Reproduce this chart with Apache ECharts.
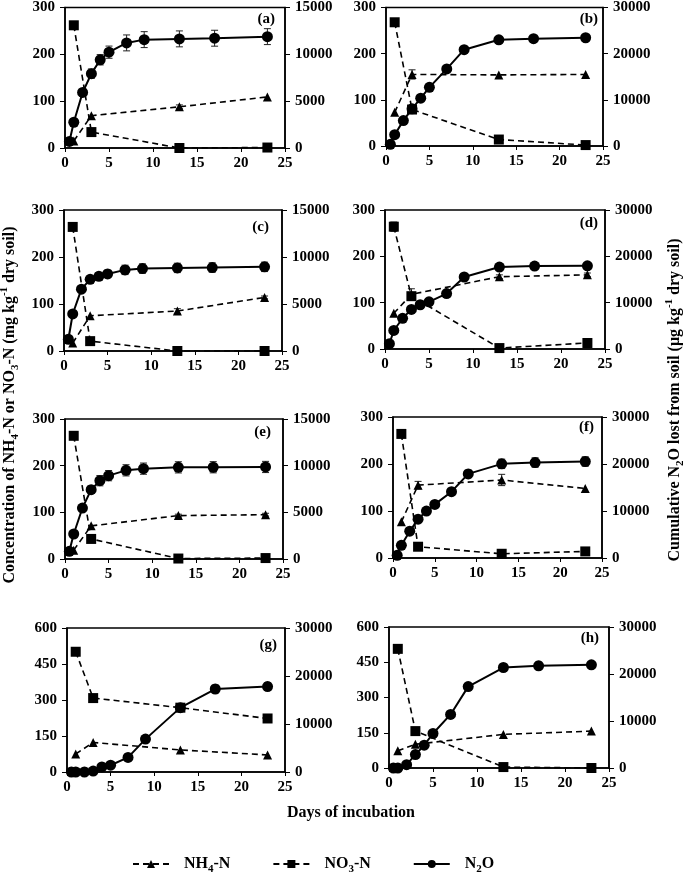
<!DOCTYPE html>
<html><head><meta charset="utf-8">
<script src="https://cdn.jsdelivr.net/npm/echarts@6/dist/echarts.min.js"></script>
<style>html,body{margin:0;padding:0;background:#fff}#c{width:685px;height:878px}</style>
</head><body><div id="c"></div>
<script>
// ---------- data ----------
const n2oDays = [0.5, 1, 2, 3, 4, 5, 7, 9, 13, 17, 23];
const nDays = [1, 3, 13, 23];
const xTicks = [0, 5, 10, 15, 20, 25];
const panelLabels = ['(a)', '(b)', '(c)', '(d)', '(e)', '(f)', '(g)', '(h)'];
const leftMax = [300, 300, 300, 300, 300, 300, 600, 600];
const leftStep = [100, 100, 100, 100, 100, 100, 150, 150];
const rightMax = [15000, 30000, 15000, 30000, 15000, 30000, 30000, 30000];
const rightStep = [5000, 10000, 5000, 10000, 5000, 10000, 10000, 10000];

const n2oA = [700, 2750, 5930, 7940, 9420, 10230, 11220, 11570, 11650, 11720, 11890];
const n2oErrA = [150, 200, 300, 500, 550, 650, 850, 850, 850, 850, 850];
const nh4A = [15, 69, 88, 109];
const nh4ErrA = [0, 0, 4, 0];
const no3A = [262, 34, 0, 1];
const no3ErrA = [0, 0, 0, 0];

const n2oB = [360, 2450, 5500, 8060, 10360, 12700, 16700, 20860, 23000, 23240, 23450];
const n2oErrB = [0, 0, 0, 0, 0, 0, 200, 200, 200, 200, 200];
const nh4B = [73, 155, 154, 155];
const nh4ErrB = [0, 10, 0, 0];
const no3B = [268, 79, 14, 2];
const no3ErrB = [0, 0, 0, 0];

const n2oC = [1250, 3940, 6580, 7620, 7950, 8200, 8630, 8770, 8840, 8880, 8950];
const n2oErrC = [0, 0, 300, 350, 400, 400, 500, 500, 500, 500, 500];
const nh4C = [17, 75, 85, 114];
const nh4ErrC = [0, 0, 5, 3];
const no3C = [264, 21, 0, 0];
const no3ErrC = [0, 0, 0, 0];

const n2oD = [1140, 4000, 6630, 8550, 9550, 10190, 11970, 15540, 17680, 17890, 17960];
const n2oErrD = [0, 0, 0, 0, 0, 0, 500, 500, 300, 200, 200];
const nh4D = [77, 118, 156, 160];
const nh4ErrD = [0, 12, 4, 4];
const no3D = [264, 114, 2, 13];
const no3ErrD = [10, 0, 0, 0];

const n2oE = [820, 2680, 5460, 7430, 8390, 8930, 9500, 9680, 9820, 9830, 9860];
const n2oErrE = [0, 200, 300, 400, 550, 550, 600, 600, 600, 600, 600];
const nh4E = [19, 71, 93, 95];
const nh4ErrE = [0, 0, 3, 3];
const no3E = [264, 43, 1, 2];
const no3ErrE = [0, 0, 0, 0];

const n2oF = [570, 2700, 5700, 8270, 9980, 11400, 14110, 17890, 20030, 20310, 20530];
const n2oErrF = [300, 0, 0, 300, 300, 300, 600, 800, 1000, 1000, 1000];
const nh4F = [77, 155, 166, 148];
const nh4ErrF = [0, 8, 12, 0];
const no3F = [264, 24, 9, 14];
const no3ErrF = [8, 0, 0, 0];

const n2oG = [0, 0, 0, 200, 1060, 1410, 3040, 6850, 13410, 17290, 17790];
const n2oErrG = [0, 0, 0, 0, 0, 0, 300, 400, 400, 800, 800];
const nh4G = [75, 123, 92, 71];
const nh4ErrG = [0, 0, 0, 0];
const no3G = [501, 308, 268, 223];
const no3ErrG = [0, 10, 0, 0];

const n2oH = [0, 0, 710, 2850, 4850, 7340, 11400, 17320, 21380, 21730, 21950];
const n2oErrH = [0, 0, 0, 0, 0, 0, 300, 400, 700, 800, 700];
const nh4H = [73, 101, 143, 157];
const nh4ErrH = [0, 0, 0, 0];
const no3H = [507, 157, 4, 0];
const no3ErrH = [0, 0, 0, 0];

// ---------- layout ----------
const panels = [
  {n2o: n2oA, n2oErr: n2oErrA, nh4: nh4A, nh4Err: nh4ErrA, no3: no3A, no3Err: no3ErrA},
  {n2o: n2oB, n2oErr: n2oErrB, nh4: nh4B, nh4Err: nh4ErrB, no3: no3B, no3Err: no3ErrB},
  {n2o: n2oC, n2oErr: n2oErrC, nh4: nh4C, nh4Err: nh4ErrC, no3: no3C, no3Err: no3ErrC},
  {n2o: n2oD, n2oErr: n2oErrD, nh4: nh4D, nh4Err: nh4ErrD, no3: no3D, no3Err: no3ErrD},
  {n2o: n2oE, n2oErr: n2oErrE, nh4: nh4E, nh4Err: nh4ErrE, no3: no3E, no3Err: no3ErrE},
  {n2o: n2oF, n2oErr: n2oErrF, nh4: nh4F, nh4Err: nh4ErrF, no3: no3F, no3Err: no3ErrF},
  {n2o: n2oG, n2oErr: n2oErrG, nh4: nh4G, nh4Err: nh4ErrG, no3: no3G, no3Err: no3ErrG},
  {n2o: n2oH, n2oErr: n2oErrH, nh4: nh4H, nh4Err: nh4ErrH, no3: no3H, no3Err: no3ErrH}
];
const gridBoxes = [
  [65, 7, 220, 141], [386, 7, 217, 139],
  [64, 210, 218, 141], [385, 210, 220, 139],
  [65, 419, 218, 140], [393, 417, 209, 141],
  [67, 628, 218, 144], [389, 627, 220, 141]
];
const labelPos = [[275, 19], [598, 19], [269, 227], [598, 223], [271, 432], [594, 427], [277, 645], [599, 638]];

const FONT = 'Liberation Serif, Times New Roman, serif';
const lblStyle = {color: '#000', fontFamily: FONT, fontWeight: 'bold', fontSize: 15, formatter: v => String(v)};
const DASH = [6, 4];

function errRender(params, api) {
  const x = api.value(0), lo = api.value(1), hi = api.value(2);
  const p1 = api.coord([x, lo]), p2 = api.coord([x, hi]);
  const w = 3.5, st = {stroke: '#222', lineWidth: 1};
  return {type: 'group', children: [
    {type: 'line', shape: {x1: p1[0], y1: p1[1], x2: p2[0], y2: p2[1]}, style: st},
    {type: 'line', shape: {x1: p1[0] - w, y1: p1[1], x2: p1[0] + w, y2: p1[1]}, style: st},
    {type: 'line', shape: {x1: p2[0] - w, y1: p2[1], x2: p2[0] + w, y2: p2[1]}, style: st}
  ]};
}
function errData(xs, ys, es) {
  const out = [];
  xs.forEach((x, i) => { if (es[i] > 0) out.push([x, ys[i] - es[i], ys[i] + es[i]]); });
  return out;
}

const grids = [], xAxes = [], yAxes = [], series = [], graphics = [];
panels.forEach((p, i) => {
  const g = gridBoxes[i];
  grids.push({left: g[0], top: g[1], width: g[2], height: g[3], show: true, borderColor: '#000', borderWidth: 1.5, containLabel: false});
  xAxes.push({gridIndex: i, type: 'value', min: xTicks[0], max: xTicks[xTicks.length - 1], interval: xTicks[1] - xTicks[0],
    axisLine: {show: true, onZero: false, lineStyle: {color: '#000', width: 1.5}},
    axisTick: {show: true, length: 4, lineStyle: {color: '#000'}},
    splitLine: {show: false}, axisLabel: Object.assign({margin: 8}, lblStyle)});
  yAxes.push({gridIndex: i, type: 'value', position: 'left', min: 0, max: leftMax[i], interval: leftStep[i],
    axisLine: {show: true, lineStyle: {color: '#000', width: 1.5}},
    axisTick: {show: true, length: 5, lineStyle: {color: '#000'}},
    splitLine: {show: false}, axisLabel: Object.assign({margin: 10}, lblStyle)});
  yAxes.push({gridIndex: i, type: 'value', position: 'right', min: 0, max: rightMax[i], interval: rightStep[i],
    axisLine: {show: true, lineStyle: {color: '#000', width: 1.5}},
    axisTick: {show: true, length: 5, lineStyle: {color: '#000'}},
    splitLine: {show: false}, axisLabel: Object.assign({margin: 10}, lblStyle)});
  const yl = 2 * i, yr = 2 * i + 1;
  series.push({type: 'custom', name: 'errN2O' + i, xAxisIndex: i, yAxisIndex: yr, renderItem: errRender,
    encode: {x: 0, y: [1, 2]}, data: errData(n2oDays, p.n2o, p.n2oErr), z: 1, silent: true});
  series.push({type: 'custom', name: 'errNH4' + i, xAxisIndex: i, yAxisIndex: yl, renderItem: errRender,
    encode: {x: 0, y: [1, 2]}, data: errData(nDays, p.nh4, p.nh4Err), z: 1, silent: true});
  series.push({type: 'custom', name: 'errNO3' + i, xAxisIndex: i, yAxisIndex: yl, renderItem: errRender,
    encode: {x: 0, y: [1, 2]}, data: errData(nDays, p.no3, p.no3Err), z: 1, silent: true});
  series.push({type: 'line', name: 'NH4-N', xAxisIndex: i, yAxisIndex: yl, data: nDays.map((d, k) => [d, p.nh4[k]]),
    symbol: 'triangle', symbolSize: 9, lineStyle: {color: '#000', width: 1.6, type: DASH}, itemStyle: {color: '#000'}, z: 3});
  series.push({type: 'line', name: 'NO3-N', xAxisIndex: i, yAxisIndex: yl, data: nDays.map((d, k) => [d, p.no3[k]]),
    symbol: 'rect', symbolSize: 10, lineStyle: {color: '#000', width: 1.6, type: DASH}, itemStyle: {color: '#000'}, z: 3});
  series.push({type: 'line', name: 'N2O', xAxisIndex: i, yAxisIndex: yr, data: n2oDays.map((d, k) => [d, p.n2o[k]]),
    symbol: 'circle', symbolSize: 11, lineStyle: {color: '#000', width: 2}, itemStyle: {color: '#000'}, z: 4});
  graphics.push({type: 'text', x: labelPos[i][0], y: labelPos[i][1],
    style: {text: panelLabels[i], fill: '#000', font: 'bold 15px ' + FONT, align: 'right', verticalAlign: 'middle'}});
});

const richBase = {
  b: {fontFamily: FONT, fontWeight: 'bold', fontSize: 16, lineHeight: 22, fill: '#000', color: '#000'},
  s: {fontFamily: FONT, fontWeight: 'bold', fontSize: 11, lineHeight: 11, verticalAlign: 'bottom', fill: '#000', color: '#000'},
  u: {fontFamily: FONT, fontWeight: 'bold', fontSize: 11, lineHeight: 11, verticalAlign: 'top', fill: '#000', color: '#000'}
};

graphics.push({type: 'text', x: 10, y: 405, rotation: Math.PI / 2,
  style: {text: '{b|Concentration of NH}{s|4}{b|-N or NO}{s|3}{b|-N (mg kg}{u|-1}{b| dry soil)}', rich: richBase,
    align: 'center', verticalAlign: 'middle', fill: '#000'}});
graphics.push({type: 'text', x: 675, y: 400, rotation: Math.PI / 2,
  style: {text: '{b|Cumulative N}{s|2}{b|O lost from soil (μg kg}{u|-1}{b| dry soil)}', rich: richBase,
    align: 'center', verticalAlign: 'middle', fill: '#000'}});
graphics.push({type: 'text', x: 351, y: 813,
  style: {text: 'Days of incubation', font: 'bold 16px ' + FONT, fill: '#000', align: 'center', verticalAlign: 'middle'}});

const legendNames = {'NH4-N': '{b|NH}{s|4}{b|-N}', 'NO3-N': '{b|NO}{s|3}{b|-N}', 'N2O': '{b|N}{s|2}{b|O}'};

const chart = echarts.init(document.getElementById('c'), null, {renderer: 'canvas'});
chart.setOption({
  animation: false,
  backgroundColor: '#fff',
  grid: grids, xAxis: xAxes, yAxis: yAxes, series: series, graphic: graphics,
  legend: {data: ['NH4-N', 'NO3-N', 'N2O'], left: 127, top: 851, itemWidth: 36, itemHeight: 10, itemGap: 42,
    formatter: n => legendNames[n],
    textStyle: {padding: [0, 0, 0, 10], rich: richBase}}
});
</script></body></html>
